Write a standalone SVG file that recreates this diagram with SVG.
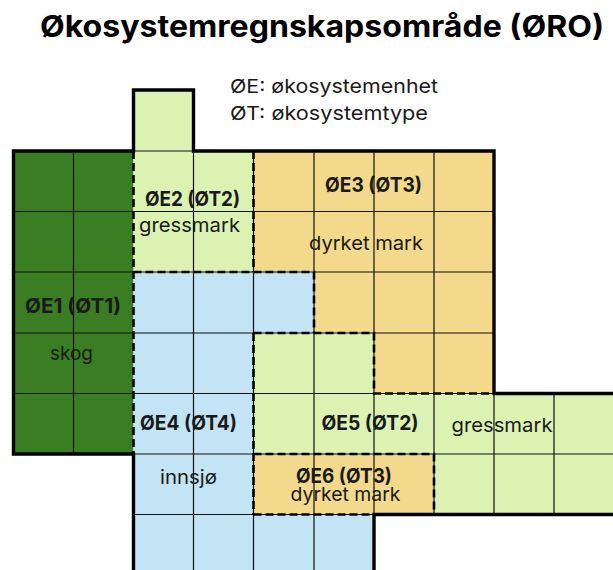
<svg xmlns="http://www.w3.org/2000/svg" width="613" height="570" viewBox="0 0 613 570">
  <style>
    text { font-family: Inter, "Liberation Sans", Arial, sans-serif; fill: #1a1a1a; }
    .title { font-size: 30px; font-weight: 700; fill: #000; }
    .legend { font-size: 19px; }
    .id { font-size: 20px; font-weight: 700; }
    .type { font-size: 19px; }
    .grid line { stroke: #111; stroke-width: 1.2; }
    .split { fill: none; stroke: #000; stroke-width: 2.6; stroke-dasharray: 8 4; }
    .outline { fill: none; stroke: #000; stroke-width: 3.4; stroke-linejoin: miter; }
  </style>
  <defs>
    <clipPath id="area">
      <polygon points="13.5,151 133.5,151 133.5,90 193.5,90 193.5,151 494,151 494,393.5 620,393.5 620,514.5 374,514.5 374,580 133.5,580 133.5,454 13.5,454"/>
    </clipPath>
  </defs>

  <rect width="613" height="570" fill="#fff"/>

  <text class="title" x="40" y="37" textLength="564" lengthAdjust="spacingAndGlyphs">Økosystemregnskapsområde (ØRO)</text>

  <g id="legend">
    <text class="legend" x="230" y="93" textLength="208" lengthAdjust="spacingAndGlyphs">ØE: økosystemenhet</text>
    <text class="legend" x="230" y="120" textLength="198" lengthAdjust="spacingAndGlyphs">ØT: økosystemtype</text>
  </g>

  <!-- ecosystem units: fills -->
  <g id="OE1">
    <rect x="13.5" y="151" width="120" height="303" fill="#3b7d23"/>
  </g>
  <g id="OE2">
    <polygon points="133.5,90 193.5,90 193.5,151 253.5,151 253.5,272 133.5,272" fill="#dbf2b3"/>
  </g>
  <g id="OE3">
    <polygon points="253.5,151 494,151 494,393.5 374,393.5 374,333 314,333 314,272 253.5,272" fill="#f2d98b"/>
  </g>
  <g id="OE4">
    <polygon points="133.5,272 314,272 314,333 253.5,333 253.5,514.5 374,514.5 374,580 133.5,580" fill="#c2e4f4"/>
  </g>
  <g id="OE5">
    <polygon points="253.5,333 374,333 374,393.5 620,393.5 620,514.5 434,514.5 434,454 253.5,454" fill="#dbf2b3"/>
  </g>
  <g id="OE6">
    <rect x="253.5" y="454" width="180.5" height="60.5" fill="#f2d98b"/>
  </g>

  <!-- cell grid -->
  <g class="grid" clip-path="url(#area)">
    <line x1="73.5" y1="80" x2="73.5" y2="580"/>
    <line x1="193.5" y1="151" x2="193.5" y2="580"/>
    <line x1="253.5" y1="80" x2="253.5" y2="580"/>
    <line x1="314" y1="80" x2="314" y2="580"/>
    <line x1="374" y1="80" x2="374" y2="580"/>
    <line x1="434" y1="80" x2="434" y2="580"/>
    <line x1="494" y1="80" x2="494" y2="580"/>
    <line x1="554" y1="80" x2="554" y2="580"/>
    <line x1="0" y1="151" x2="620" y2="151"/>
    <line x1="0" y1="211.5" x2="620" y2="211.5"/>
    <line x1="0" y1="272" x2="620" y2="272"/>
    <line x1="0" y1="333" x2="620" y2="333"/>
    <line x1="0" y1="393.5" x2="620" y2="393.5"/>
    <line x1="0" y1="454" x2="620" y2="454"/>
    <line x1="0" y1="514.5" x2="620" y2="514.5"/>
  </g>

  <!-- unit borders (dashed) and area outline -->
  <g id="borders">
    <path class="split" d="M133.5,151 V454"/>
    <path class="split" d="M133.5,272 H314 V333"/>
    <path class="split" d="M253.5,151 V272"/>
    <path class="split" d="M253.5,333 H374 V393.5 H494"/>
    <path class="split" d="M253.5,333 V514.5"/>
    <path class="split" d="M253.5,454 H434 V514.5"/>
    <path class="split" d="M253.5,514.5 H374"/>
    <path class="outline" d="M133.5,580 V454 H13.5 V151 H133.5 V90 H193.5 V151 H494 V393.5 H620 M620,514.5 H374 V580"/>
  </g>

  <!-- labels -->
  <g id="labels">
    <text class="id" x="145" y="206" textLength="95" lengthAdjust="spacingAndGlyphs">ØE2 (ØT2)</text>
    <text class="type" x="139" y="231.5" textLength="101" lengthAdjust="spacingAndGlyphs">gressmark</text>
    <text class="id" x="325" y="191.5" textLength="97" lengthAdjust="spacingAndGlyphs">ØE3 (ØT3)</text>
    <text class="type" x="309" y="250" textLength="114" lengthAdjust="spacingAndGlyphs">dyrket mark</text>
    <text class="id" x="25" y="312.5" textLength="96" lengthAdjust="spacingAndGlyphs">ØE1 (ØT1)</text>
    <text class="type" x="50" y="360" textLength="43" lengthAdjust="spacingAndGlyphs">skog</text>
    <text class="id" x="140" y="430" textLength="97" lengthAdjust="spacingAndGlyphs">ØE4 (ØT4)</text>
    <text class="type" x="160" y="484" textLength="57" lengthAdjust="spacingAndGlyphs">innsjø</text>
    <text class="id" x="321.5" y="430" textLength="97" lengthAdjust="spacingAndGlyphs">ØE5 (ØT2)</text>
    <text class="type" x="451.5" y="431.5" textLength="101" lengthAdjust="spacingAndGlyphs">gressmark</text>
    <text class="id" x="296" y="483" textLength="96" lengthAdjust="spacingAndGlyphs">ØE6 (ØT3)</text>
    <text class="type" x="290.5" y="501" textLength="110" lengthAdjust="spacingAndGlyphs">dyrket mark</text>
  </g>
</svg>
